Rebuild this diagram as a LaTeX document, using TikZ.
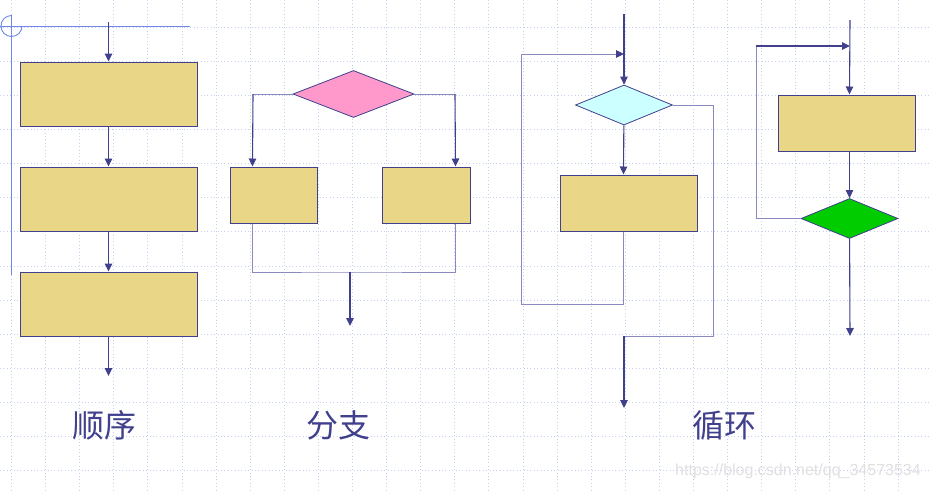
\documentclass[tikz,border=0pt]{standalone}
\usepackage{fontspec}
\setmainfont{Liberation Sans}
\newfontfamily\cjk{Noto Sans CJK SC}
\usetikzlibrary{arrows.meta, positioning, shapes.geometric}
\definecolor{edgeblue}{HTML}{40408C}
\definecolor{loopblue}{HTML}{8A8AC0}
\definecolor{boxfill}{HTML}{E9D687}
\definecolor{gridblue}{HTML}{C5CFF0}
\definecolor{guideblue}{HTML}{7088E8}
\definecolor{condpink}{HTML}{FF99CC}
\definecolor{condcyan}{HTML}{CCFFFF}
\definecolor{condgreen}{HTML}{00CC00}
\tikzset{proc/.style={rectangle,draw=edgeblue,fill=boxfill,line width=1pt,inner sep=0pt},cond/.style={diamond,draw=edgeblue,line width=0.8pt,inner sep=0pt},line/.style={edgeblue,line width=1.1pt,-{Triangle[length=8pt,width=7.5pt]}},back/.style={loopblue,line width=1pt},backin/.style={back,-{Triangle[length=8pt,width=7.5pt,color=edgeblue]}},title/.style={text=edgeblue,font=\cjk\fontsize{32}{32}\selectfont},gridline/.style={gridblue,line width=0.9pt,dash pattern=on 1pt off 2.4pt}}

\begin{document}
\begin{tikzpicture}[x=1pt,y=-1pt]
\fill[white] (0,0) rectangle (929,491);
\useasboundingbox (0,0) rectangle (929,491);
% grid
\foreach \gx in {0,...,26} \draw[gridline] (11.5+34.1*\gx,0) -- (11.5+34.1*\gx,491);
\foreach \gy in {0,...,13} \draw[gridline] (0,27.3+34.1*\gy) -- (929,27.3+34.1*\gy);
% guides
\draw[guideblue,line width=1pt] (11.5,15) -- (11.5,275);
\draw[guideblue,line width=1pt] (0,26) -- (190,26);
\draw[guideblue,line width=0.9pt] (22,26) arc[start angle=0,end angle=270,radius=10.5];
% sequence
\coordinate (s0) at (108.5,22);
\node[proc, minimum width=177pt, minimum height=64pt] (s1) at (108.5,94) {};
\node[proc, minimum width=177pt, minimum height=64pt, below=40pt of s1] (s2) {};
\node[proc, minimum width=177pt, minimum height=64pt, below=40pt of s2] (s3) {};
\coordinate (s4) at (108.5,376);
\draw[line] (s0) -- (s1);
\draw[line] (s1) -- (s2);
\draw[line] (s2) -- (s3);
\draw[line] (s3) -- (s4);
% branch
\node[cond, fill=condpink, minimum width=121pt, minimum height=47pt] (b0) at (353.5,94) {};
\node[proc, minimum width=87pt, minimum height=56pt] (bl) at (273.5,195) {};
\node[proc, minimum width=88pt, minimum height=56pt] (br) at (426,195) {};
\coordinate (bl0) at (253,94);
\coordinate (br0) at (455,94);
\coordinate (bj) at (350,272);
\coordinate (b4) at (350,326);
\draw[back] (b0.west) -- (bl0);
\draw[back] (b0.east) -- (br0);
\draw[line] (bl0) -- ([xshift=23pt]bl.north west);
\draw[line] (br0) -- ([xshift=-15pt]br.north east);
\draw[back] ([xshift=23pt]bl.south west) |- (bj) -| ([xshift=-15pt]br.south east);
\draw[line] (bj) -- (b4);
% while loop
\coordinate (w0) at (624,14);
\node[cond, fill=condcyan, minimum width=97pt, minimum height=40pt] (wd) at (624,105) {};
\node[proc, minimum width=137pt, minimum height=56pt] (wb) at (628.5,203) {};
\coordinate (wi) at (624,54);
\coordinate (wl) at (521,304);
\coordinate (wx) at (713,336);
\coordinate (w4) at (624,408);
\draw[line] (w0) -- (wd);
\draw[line] (wd) -- ([xshift=64pt]wb.north west);
\draw[backin] ([xshift=64pt]wb.south west) |- (wl) |- (wi);
\draw[back] (wd.east) -| (wx) -- (wx -| w4);
\draw[line] (wx -| w4) -- (w4);
% do-while loop
\coordinate (d0) at (850,20);
\node[proc, minimum width=137pt, minimum height=56pt] (db) at (846.5,123) {};
\node[cond, fill=condgreen, minimum width=97pt, minimum height=40pt] (dd) at (849.5,218.5) {};
\coordinate (dl) at (756,46);
\coordinate (di) at (850,46);
\coordinate (d4) at (850,336);
\draw[line] (d0) -- ([xshift=72pt]db.north west);
\draw[line] ([xshift=72pt]db.south west) -- (dd);
\draw[back] (dd.west) -| (dl);
\draw[line] (dl) -- (di);
\draw[line] (dd) -- (d4);
% labels
\node[title] (t1) at (104,425) {顺序};
\node[title] (t2) at (338,425) {分支};
\node[title] (t3) at (724,425) {循环};
\node[text=black!12, font=\fontsize{16}{16}\selectfont] (wm) at (798,471) {https://blog.csdn.net/qq\_34573534};
\end{tikzpicture}
\end{document}
